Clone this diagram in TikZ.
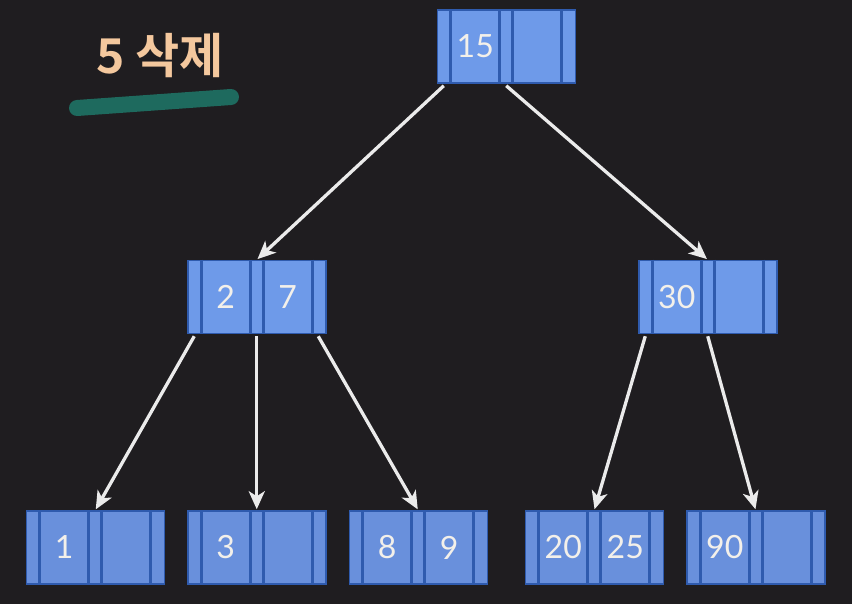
\documentclass[tikz,border=0pt]{standalone}
\usepackage{fontspec}
\setmainfont{Lato}
\newfontfamily\krfont{Noto Sans CJK KR}[BoldFont={* Bold}]
\usetikzlibrary{arrows.meta}
\definecolor{bgc}{HTML}{1F1D20}
\definecolor{nodefill}{HTML}{6E9AE9}
\definecolor{leaffill}{HTML}{6990DC}
\definecolor{divc}{HTML}{2F5BAE}
\definecolor{txtc}{HTML}{F3F0EA}
\definecolor{titlec}{HTML}{F4C89E}
\definecolor{markc}{HTML}{1E6A5E}
\tikzset{
  bbox/.style={draw=divc, line width=1.5pt, minimum width=138pt, minimum height=73pt, inner sep=0pt},
  divl/.style={draw=divc, line width=2.6pt},
  keytxt/.style={text=txtc, font=\fontsize{32}{32}\selectfont, inner sep=0pt},
  ptr/.style={draw=white!92!black, line width=3.3pt, -{Stealth[length=18pt,width=16pt,inset=5pt]}, shorten >=1pt},
}
\newcommand\btnode[6]{%
  \node[bbox, fill=#6] (#1) at (#2,#3) {};
  \foreach \o in {14,63,76,125}{
    \draw[divl] ([xshift=\o pt]#1.north west) -- ([xshift=\o pt]#1.south west);
  }
  \node[keytxt] (#1-a) at ([xshift=38.5pt]#1.west) {#4};
  \node[keytxt] (#1-b) at ([xshift=100.5pt]#1.west) {#5};
  \coordinate (#1-p0) at ([xshift=7pt,yshift=-2pt]#1.south west);
  \coordinate (#1-p1) at ([xshift=69.5pt,yshift=-2pt]#1.south west);
  \coordinate (#1-p2) at ([xshift=131pt,yshift=-2pt]#1.south west);
  \coordinate (#1-in) at ([xshift=69.5pt]#1.north west);
}
\begin{document}
\begin{tikzpicture}[x=1pt,y=-1pt]
\fill[bgc] (0,0) rectangle (852,604);
\useasboundingbox (0,0) rectangle (852,604);
% title
\node[text=titlec, font=\krfont\bfseries\fontsize{48}{48}\selectfont, anchor=base west, inner sep=0pt] (title) at (96,74) {5 삭제};
\coordinate (m1) at (77,108);
\coordinate (m2) at (231,97);
\draw[markc, line width=16pt, line cap=round] (m1) -- (m2);
% nodes
\btnode{r}{506.5}{46.5}{15}{}{nodefill}
\btnode{a}{257}{297}{2}{7}{nodefill}
\btnode{b}{708}{297}{30}{}{nodefill}
\btnode{l1}{95.5}{547.5}{1}{}{leaffill}
\btnode{l2}{257}{547.5}{3}{}{leaffill}
\btnode{l3}{418.5}{547.5}{8}{9}{leaffill}
\btnode{l4}{594.5}{547.5}{20}{25}{leaffill}
\btnode{l5}{756}{547.5}{90}{}{leaffill}
% pointers
\draw[ptr] (r-p0) -- (a-in);
\draw[ptr] (r-p1) -- (b-in);
\draw[ptr] (a-p0) -- (l1-in);
\draw[ptr] (a-p1) -- (l2-in);
\draw[ptr] (a-p2) -- (l3-in);
\draw[ptr] (b-p0) -- (l4-in);
\draw[ptr] (b-p1) -- (l5-in);
\end{tikzpicture}
\end{document}
